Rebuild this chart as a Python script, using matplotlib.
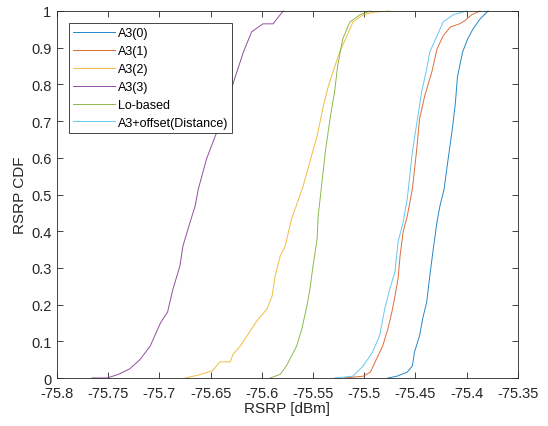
import matplotlib
matplotlib.use("Agg")
import matplotlib.pyplot as plt
from matplotlib.ticker import FormatStrFormatter

plt.rcParams['font.family'] = ['Liberation Sans', 'DejaVu Sans']

# кривые CDF: значение RSRP и накопленная вероятность
a3_0_x = [-75.477, -75.468, -75.458, -75.453, -75.451, -75.446, -75.443, -75.439, -75.436, -75.433, -75.429,
          -75.426, -75.422, -75.419, -75.414, -75.411, -75.409, -75.404, -75.399, -75.394, -75.387, -75.379]
a3_0_y = [0, 0.005, 0.016, 0.033, 0.07, 0.115, 0.161, 0.207, 0.278, 0.343, 0.425,
          0.47, 0.515, 0.578, 0.678, 0.75, 0.82, 0.888, 0.924, 0.95, 0.978, 1.0]

a3_1_x = [-75.519, -75.501, -75.494, -75.488, -75.482, -75.477, -75.473, -75.470, -75.467, -75.465, -75.462, -75.458,
          -75.453, -75.449, -75.446, -75.441, -75.434, -75.429, -75.423, -75.416, -75.407, -75.402, -75.395, -75.387]
a3_1_y = [0, 0.005, 0.016, 0.052, 0.087, 0.133, 0.18, 0.223, 0.27, 0.333, 0.398, 0.441,
          0.515, 0.616, 0.706, 0.768, 0.834, 0.896, 0.932, 0.956, 0.965, 0.973, 0.99, 1.0]

a3_2_x = [-75.675, -75.662, -75.648, -75.641, -75.631, -75.628, -75.621, -75.612, -75.605, -75.595, -75.590,
          -75.587, -75.582, -75.577, -75.574, -75.571, -75.565, -75.560, -75.555, -75.546, -75.540, -75.535,
          -75.529, -75.524, -75.517, -75.511, -75.501, -75.490, -75.475]
a3_2_y = [0, 0.008, 0.02, 0.044, 0.044, 0.065, 0.087, 0.125, 0.155, 0.188, 0.223,
          0.278, 0.333, 0.36, 0.398, 0.433, 0.48, 0.52, 0.57, 0.66, 0.74, 0.796,
          0.847, 0.888, 0.932, 0.97, 0.99, 0.997, 1.0]

a3_3_x = [-75.766, -75.751, -75.740, -75.729, -75.719, -75.709, -75.699, -75.692, -75.687, -75.680, -75.677, -75.670,
          -75.665, -75.662, -75.654, -75.644, -75.634, -75.626, -75.618, -75.610, -75.599, -75.589, -75.582, -75.579]
a3_3_y = [0, 0, 0.01, 0.025, 0.05, 0.087, 0.15, 0.18, 0.24, 0.305, 0.36, 0.425,
          0.47, 0.515, 0.597, 0.67, 0.75, 0.82, 0.888, 0.943, 0.965, 0.965, 0.99, 1.0]

lo_x = [-75.592, -75.582, -75.576, -75.571, -75.566, -75.561, -75.556, -75.553, -75.550, -75.546,
        -75.545, -75.542, -75.538, -75.533, -75.529, -75.526, -75.521, -75.514, -75.504, -75.494]
lo_y = [0, 0.01, 0.033, 0.06, 0.087, 0.133, 0.196, 0.243, 0.305, 0.379,
        0.441, 0.515, 0.616, 0.714, 0.779, 0.85, 0.924, 0.97, 0.99, 1.0]

dist_x = [-75.529, -75.511, -75.501, -75.492, -75.485, -75.480, -75.475, -75.470, -75.467, -75.462,
          -75.458, -75.453, -75.448, -75.444, -75.439, -75.436, -75.429, -75.423, -75.413, -75.400]
dist_y = [0, 0.005, 0.033, 0.07, 0.115, 0.188, 0.243, 0.29, 0.37, 0.425,
          0.488, 0.616, 0.706, 0.779, 0.842, 0.888, 0.932, 0.97, 0.99, 1.0]

names = ['A3(0)', 'A3(1)', 'A3(2)', 'A3(3)', 'Lo-based', 'A3+offset(Distance)']
colors = ['#0072BD', '#D95319', '#EDB120', '#7E2F8E', '#77AC30', '#4DBEEE']

x_ticks = [-75.8, -75.75, -75.7, -75.65, -75.6, -75.55, -75.5, -75.45, -75.4, -75.35]
y_ticks = [0, 0.1, 0.2, 0.3, 0.4, 0.5, 0.6, 0.7, 0.8, 0.9, 1]

fig = plt.figure(figsize=(5.48, 4.27), dpi=100)
ax = fig.add_axes([0.104, 0.1124, 0.841, 0.8595])

curves = [(a3_0_x, a3_0_y), (a3_1_x, a3_1_y), (a3_2_x, a3_2_y),
          (a3_3_x, a3_3_y), (lo_x, lo_y), (dist_x, dist_y)]
for (xs, ys), name, c in zip(curves, names, colors):
    ax.plot(xs, ys, color=c, lw=0.7, alpha=0.85, label=name, clip_on=False)

ax.set_xlim(-75.8, -75.35)
ax.set_ylim(0, 1)
ax.set_xticks(x_ticks)
ax.set_yticks(y_ticks)
ax.xaxis.set_major_formatter(FormatStrFormatter('%g'))
ax.yaxis.set_major_formatter(FormatStrFormatter('%g'))
ax.tick_params(direction='in', length=4, width=0.6, colors='#262626', labelsize=10.5,
               top=True, right=True, pad=4)
ax.tick_params(axis='x', pad=5.5)
for s in ax.spines.values():
    s.set_color('#262626')
    s.set_linewidth(0.6)

ax.set_xlabel('RSRP [dBm]', fontsize=11, color='#262626', labelpad=1)
ax.set_ylabel('RSRP CDF', fontsize=11, color='#262626', labelpad=3)

leg = ax.legend(loc='upper left', bbox_to_anchor=(0.026, 0.967), borderaxespad=0,
                fontsize=9, handlelength=3.3, handletextpad=0.25, labelspacing=0.47,
                borderpad=0.35, fancybox=False, framealpha=1)
leg.get_frame().set_edgecolor('#262626')
leg.get_frame().set_linewidth(0.6)

fig.savefig('out.png', dpi=100)
